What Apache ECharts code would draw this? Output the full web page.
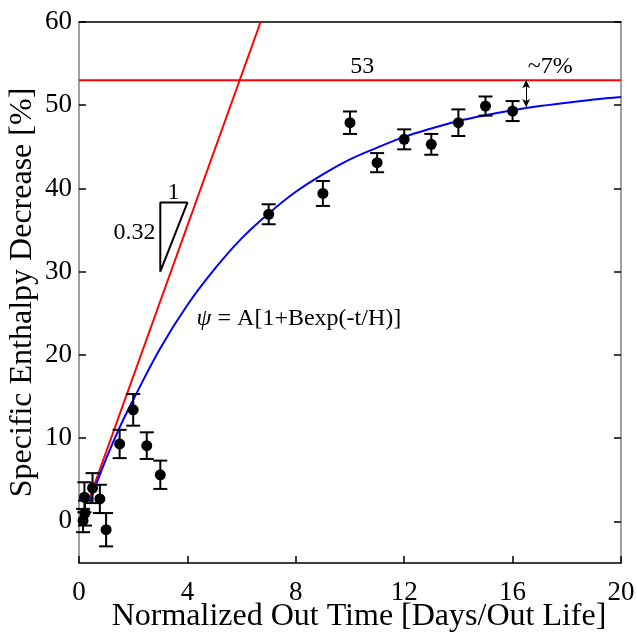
<!DOCTYPE html>
<html>
<head>
<meta charset="utf-8">
<script src="https://cdn.jsdelivr.net/npm/echarts@6/dist/echarts.min.js"></script>
<style>html,body{margin:0;padding:0;background:#fff}#c{width:637px;height:639px}</style>
</head>
<body>
<div id="c"></div>
<script>
// Measured points with error bars
const ptX   = [0.15, 0.22, 0.2, 0.5, 0.77, 1.0, 1.5, 2.0, 2.5, 3.0, 7.0, 9.0, 10.0, 11.0, 12.0, 13.0, 14.0, 15.0, 16.0];
const ptY   = [0.1, 1.0, 2.9, 4.0, 2.7, -1.0, 9.3, 13.4, 9.1, 5.6, 36.9, 39.4, 47.9, 43.1, 45.9, 45.3, 47.9, 49.9, 49.3];
const ptErr = [1.4, 1.5, 1.8, 1.8, 1.7, 2.0, 1.7, 1.9, 1.6, 1.7, 1.2, 1.5, 1.35, 1.15, 1.2, 1.25, 1.6, 1.15, 1.2];

// Fitted curve (blue)
const fitX = [0.4, 1, 1.5, 2, 3, 4, 5, 6, 7, 8, 9, 10, 11, 12, 13, 14, 15, 16, 17, 18, 19, 20];
const fitY = [2.4, 7.5, 11.3, 14.6, 20.8, 26.0, 30.3, 34.0, 37.0, 39.6, 41.7, 43.5, 44.9, 46.2, 47.2, 48.1, 48.8, 49.4, 49.9, 50.3, 50.7, 51.0];

// Initial slope line (red)
const slopeX = [0.4, 6.7];
const slopeY = [2.9, 60];

// Plateau line (red)
const plateau = 53;

// Slope triangle
const triX = [3, 3, 4, 3];
const triY = [30, 38.3, 38.3, 30];

// Gap arrow
const arrowX = 16.5;
const arrowY = [53, 49.8];

// Annotations
const annText = ['53', '~7%', '1', '0.32'];
const annX = [10.45, 17.39, 3.49, 2.05];
const annY = [54.6, 54.6, 39.5, 34.65];
const formulaText = '{i|ψ} = A[1+Bexp(-t/H)]';
const formulaX = 4.34, formulaY = 24.4;

// Axis ticks
const xTicks = [0, 4, 8, 12, 16, 20];
const yTicks = [0, 10, 20, 30, 40, 50, 60];

const FONT = 'Liberation Serif';

const chart = echarts.init(document.getElementById('c'), null, {renderer: 'canvas'});

const points = ptX.map((x, i) => [x, ptY[i], ptErr[i]]);

const option = {
  animation: false,
  backgroundColor: '#fff',
  textStyle: {fontFamily: FONT},
  grid: {left: 79, right: 16, top: 22, bottom: 76, containLabel: false, outerBoundsMode: 'none'},
  xAxis: [{
    type: 'value', min: 0, max: 20, position: 'bottom',
    name: 'Normalized Out Time [Days/Out Life]', nameLocation: 'middle', nameGap: 38,
    nameMoveOverlap: false,
    nameTextStyle: {fontFamily: FONT, fontSize: 32, color: '#000', padding: [0, 0, 0, 18]},
    axisLine: {show: true, onZero: false, lineStyle: {color: '#000', width: 1.5}},
    axisTick: {show: true, inside: true, length: 7, customValues: xTicks, lineStyle: {color: '#000', width: 1.5}},
    axisLabel: {customValues: xTicks, fontFamily: FONT, fontSize: 27, color: '#000', margin: 16},
    splitLine: {show: false}
  }, {
    type: 'value', min: 0, max: 20, position: 'top',
    axisLine: {show: true, onZero: false, lineStyle: {color: '#000', width: 1.5}},
    axisTick: {show: false}, axisLabel: {show: false}, splitLine: {show: false}
  }],
  yAxis: [{
    type: 'value', min: -5, max: 60, position: 'left',
    name: 'Specific Enthalpy Decrease [%]', nameLocation: 'middle', nameGap: 40,
    nameMoveOverlap: false,
    nameTextStyle: {fontFamily: FONT, fontSize: 32, color: '#000'},
    axisLine: {show: true, onZero: false, lineStyle: {color: '#808080', width: 1.5}},
    axisTick: {show: true, inside: true, length: 7, customValues: yTicks, lineStyle: {color: '#000', width: 1.5}},
    axisLabel: {customValues: yTicks, fontFamily: FONT, fontSize: 27, color: '#000', margin: 7},
    splitLine: {show: false}
  }, {
    type: 'value', min: -5, max: 60, position: 'right',
    axisLine: {show: true, onZero: false, lineStyle: {color: '#808080', width: 1.5}},
    axisTick: {show: true, inside: true, length: 7, customValues: yTicks, lineStyle: {color: '#000', width: 1.5}},
    axisLabel: {show: false}, splitLine: {show: false}
  }],
  series: [
    {
      type: 'line', data: slopeX.map((x, i) => [x, slopeY[i]]), symbol: 'none', clip: true,
      lineStyle: {color: '#ff0000', width: 2}, z: 2
    },
    {
      type: 'line', data: [[0, plateau], [20, plateau]], symbol: 'none',
      lineStyle: {color: '#ff0000', width: 2}, z: 2,
      markLine: {
        silent: true, symbol: ['arrow', 'arrow'], symbolSize: [6, 8],
        label: {show: false},
        lineStyle: {color: '#000', width: 1, type: 'solid'},
        data: [[{coord: [arrowX, arrowY[0]]}, {coord: [arrowX, arrowY[1]]}]]
      }
    },
    {
      type: 'line', data: fitX.map((x, i) => [x, fitY[i]]), symbol: 'none', smooth: 0.4,
      lineStyle: {color: '#0000ff', width: 2}, z: 3
    },
    {
      type: 'line', data: triX.map((x, i) => [x, triY[i]]), symbol: 'none',
      lineStyle: {color: '#000', width: 2}, z: 3
    },
    {
      type: 'custom', z: 4,
      data: points,
      renderItem: function (params, api) {
        const x = api.value(0), y = api.value(1), e = api.value(2);
        const top = api.coord([x, y + e]);
        const bot = api.coord([x, y - e]);
        const w = 7;
        const st = {stroke: '#000', lineWidth: 2};
        return {type: 'group', children: [
          {type: 'line', shape: {x1: top[0], y1: top[1], x2: bot[0], y2: bot[1]}, style: st},
          {type: 'line', shape: {x1: top[0] - w, y1: top[1], x2: top[0] + w, y2: top[1]}, style: st},
          {type: 'line', shape: {x1: bot[0] - w, y1: bot[1], x2: bot[0] + w, y2: bot[1]}, style: st}
        ]};
      }
    },
    {
      type: 'scatter', data: points.map(p => [p[0], p[1]]), symbol: 'circle', symbolSize: 11,
      itemStyle: {color: '#000', opacity: 1}, z: 5
    },
    {
      type: 'scatter', symbolSize: 0, z: 6, silent: true,
      itemStyle: {opacity: 1},
      data: annText.map((t, i) => ({value: [annX[i], annY[i]], name: t})),
      label: {show: true, position: 'inside', formatter: p => p.name,
              fontFamily: FONT, fontSize: 24, color: '#000'}
    },
    {
      type: 'scatter', symbolSize: 0, z: 6, silent: true,
      itemStyle: {opacity: 1},
      data: [{value: [formulaX, formulaY], name: formulaText}],
      label: {show: true, position: 'right', distance: 0, formatter: p => p.name,
              fontFamily: FONT, fontSize: 24, color: '#000',
              rich: {i: {fontFamily: FONT, fontStyle: 'italic', fontSize: 24, color: '#000'}}}
    }
  ]
};
chart.setOption(option);
</script>
</body>
</html>
